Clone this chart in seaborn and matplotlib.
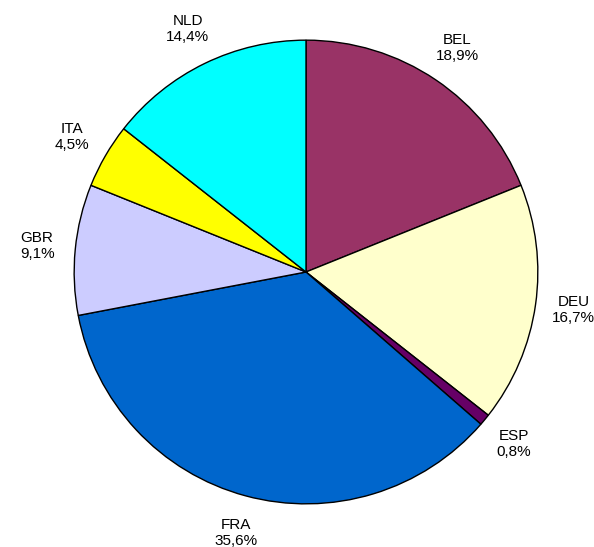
import matplotlib
matplotlib.use("Agg")
import matplotlib.pyplot as plt
import seaborn as sns

# valeurs
pays = ["BEL", "DEU", "ESP", "FRA", "GBR", "ITA", "NLD"]
parts = [18.9, 16.7, 0.8, 35.6, 9.1, 4.5, 14.4]
couleurs = ["#993366", "#FFFFCC", "#660066", "#0066CC", "#CCCCFF", "#FFFF00", "#00FFFF"]

sns.set_theme(style="white")
plt.rcParams["font.family"] = ["Liberation Sans", "DejaVu Sans"]

fig = plt.figure(figsize=(5.94, 5.47), dpi=100)
ax = fig.add_axes([73 / 594, 42 / 547, 466 / 594, 466 / 547])

etiquettes = [f"{p}\n{v:.1f}%".replace(".", ",") for p, v in zip(pays, parts)]
wedges, texts = ax.pie(
    parts,
    labels=etiquettes,
    colors=couleurs,
    startangle=90,
    counterclock=False,
    labeldistance=1.165,
    wedgeprops={"edgecolor": "black", "linewidth": 1},
    textprops={"fontsize": 11, "color": "black"},
)
for t in texts:
    t.set_ha("center")
    t.set_va("center")
    t.set_multialignment("center")

ax.set_xlim(-1.005, 1.005)
ax.set_ylim(-1.005, 1.005)
ax.set_aspect("equal")
ax.axis("off")
fig.savefig("out.png", dpi=100, facecolor="white")
